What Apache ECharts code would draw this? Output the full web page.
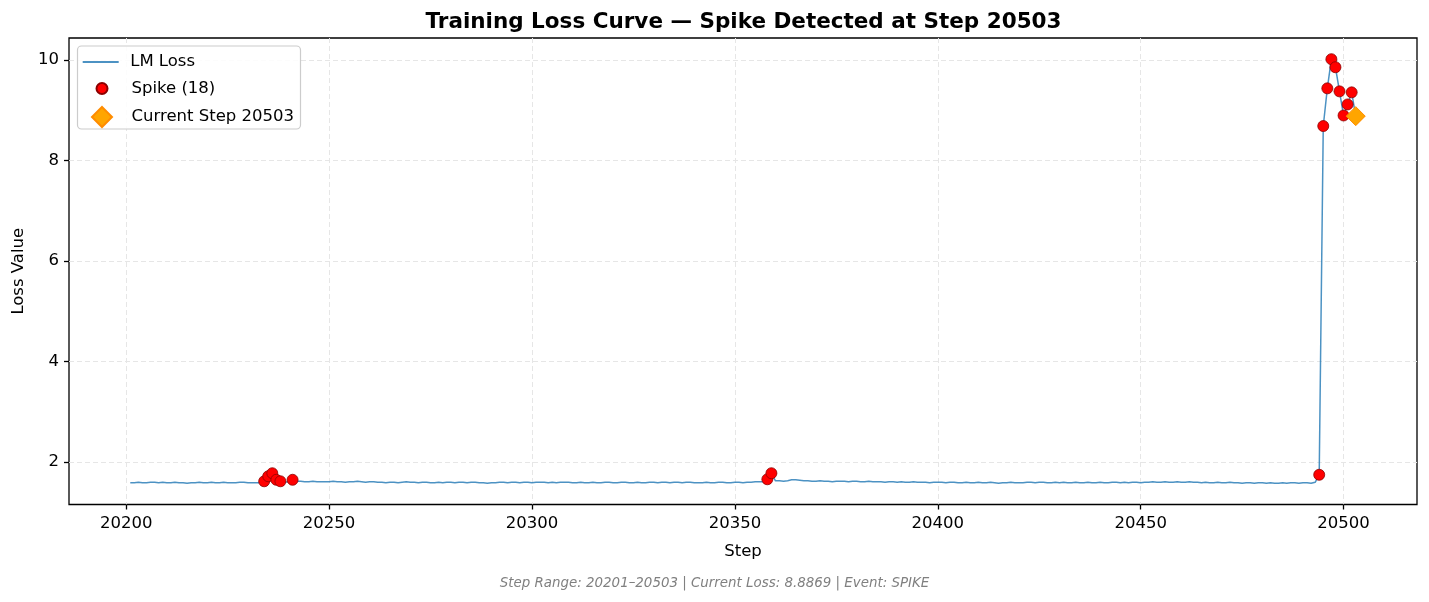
<!DOCTYPE html>
<html><head><meta charset="utf-8">
<script src="https://cdn.jsdelivr.net/npm/echarts@6/dist/echarts.min.js"></script>
<style>html,body{margin:0;padding:0;background:#fff}#c{width:1429px;height:602px}</style>
</head><body><div id="c"></div>
<script>
const startStep = 20201;
const lossValues = [
  1.59,1.59,1.60,1.59,1.59,1.60,1.60,1.59,1.60,1.59,
  1.59,1.60,1.59,1.59,1.58,1.59,1.59,1.60,1.59,1.59,
  1.60,1.59,1.59,1.60,1.59,1.59,1.59,1.60,1.60,1.59,
  1.59,1.59,1.59,
  1.62,1.72,1.78,1.65,1.62,
  1.60,1.61,
  1.65,
  1.62,1.62,1.61,1.61,1.62,1.61,1.61,1.61,1.61,
  1.62,1.61,1.61,1.60,1.61,1.61,1.62,1.61,1.60,1.61,
  1.61,1.60,1.60,1.59,1.60,1.60,1.59,1.60,1.61,1.60,
  1.60,1.59,1.60,1.60,1.59,1.59,1.60,1.59,1.60,1.60,
  1.59,1.60,1.60,1.59,1.60,1.60,1.59,1.59,1.58,1.59,
  1.59,1.60,1.60,1.59,1.60,1.60,1.59,1.60,1.60,1.59,
  1.60,1.60,1.60,1.59,1.60,1.59,1.60,1.60,1.60,1.59,
  1.59,1.60,1.59,1.59,1.60,1.59,1.59,1.60,1.60,1.59,
  1.59,1.60,1.60,1.59,1.59,1.60,1.59,1.59,1.60,1.60,
  1.59,1.60,1.60,1.59,1.60,1.60,1.59,1.60,1.60,1.59,
  1.59,1.59,1.60,1.59,1.59,1.60,1.60,1.59,1.59,1.60,
  1.60,1.59,1.60,1.60,1.61,1.61,1.61,
  1.66,1.78,
  1.63,1.63,1.62,1.63,1.65,1.65,1.64,1.63,1.63,1.62,1.62,
  1.63,1.62,1.62,1.61,1.62,1.62,1.62,1.61,1.62,1.62,
  1.61,1.61,1.62,1.61,1.61,1.61,1.60,1.61,1.61,1.60,
  1.61,1.60,1.60,1.61,1.60,1.60,1.60,1.59,1.60,1.60,
  1.60,1.59,1.60,1.60,1.59,1.59,1.60,1.59,1.59,1.60,
  1.59,1.59,1.60,1.59,1.58,1.59,1.59,1.60,1.59,1.59,
  1.59,1.60,1.60,1.59,1.60,1.60,1.59,1.59,1.60,1.59,
  1.60,1.59,1.59,1.60,1.59,1.59,1.60,1.59,1.59,1.60,
  1.59,1.59,1.60,1.60,1.59,1.60,1.59,1.60,1.60,1.59,
  1.60,1.60,1.61,1.60,1.60,1.61,1.60,1.60,1.61,1.60,
  1.60,1.61,1.60,1.60,1.59,1.60,1.59,1.59,1.60,1.59,
  1.59,1.60,1.59,1.59,1.58,1.59,1.59,1.58,1.59,1.59,
  1.58,1.59,1.58,1.58,1.59,1.58,1.59,1.59,1.58,1.59,
  1.59,1.58,1.60,
  1.75,
  8.69,9.44,10.02,9.86,9.38,8.90,9.12,9.36,8.8869
];
const spikeSteps = [20234,20235,20236,20237,20238,20241,20358,20359,20494,20495,20496,20497,20498,20499,20500,20501,20502];
const currentStep = 20503;
const currentLoss = 8.8869;
const xTickValues = [20200,20250,20300,20350,20400,20450,20500];
const yTickValues = [2,4,6,8,10];
const titleText = 'Training Loss Curve \u2014 Spike Detected at Step 20503';
const footerText = 'Step Range: 20201\u201320503 | Current Loss: 8.8869 | Event: SPIKE';
const seriesNames = ['LM Loss', 'Spike (18)', 'Current Step 20503'];

const lineData = lossValues.map((v, i) => [startStep + i, v]);
const spikeData = spikeSteps.map(s => [s, lossValues[s - startStep]]);
const currentData = [[currentStep, currentLoss]];

const FONT = 'DejaVu Sans';
const chart = echarts.init(document.getElementById('c'), null, {renderer: 'canvas'});
const legendBase = {
  orient: 'vertical', padding: 0, itemWidth: 49, itemGap: 0,
  selectedMode: false, z: 6, symbolKeepAspect: true,
  textStyle: {fontFamily: FONT, fontSize: 16.5, color: '#000', lineHeight: 20}
};
chart.setOption({
  animation: false,
  backgroundColor: '#fff',
  title: {
    text: titleText, left: 743.5, top: 11, textAlign: 'center', padding: 0,
    textStyle: {fontFamily: FONT, fontSize: 21.5, fontWeight: 'bold', color: '#000'}
  },
  grid: {left: 69, right: 12, top: 38, bottom: 97.5, show: true, borderColor: '#000', borderWidth: 1.3, backgroundColor: 'transparent'},
  xAxis: {
    type: 'value', min: 20185.9, max: 20518.1,
    name: 'Step', nameLocation: 'middle', nameGap: 39,
    nameTextStyle: {fontFamily: FONT, fontSize: 16.5, color: '#000'},
    axisLine: {show: false},
    axisTick: {show: true, length: 5, customValues: xTickValues, lineStyle: {color: '#000', width: 1.3}},
    axisLabel: {customValues: xTickValues, margin: 11, fontFamily: FONT, fontSize: 16.5, color: '#000', formatter: v => String(v)},
    splitLine: {show: true, lineStyle: {color: '#e6e6e6', type: [5, 3], width: 1}}
  },
  yAxis: {
    type: 'value', min: 1.158, max: 10.442,
    name: 'Loss Value', nameLocation: 'middle', nameGap: 40, nameRotate: 90,
    nameTextStyle: {fontFamily: FONT, fontSize: 16.5, color: '#000'},
    axisLine: {show: false},
    axisTick: {show: true, length: 5, customValues: yTickValues, lineStyle: {color: '#000', width: 1.3}},
    axisLabel: {customValues: yTickValues, margin: 10, fontFamily: FONT, fontSize: 16.5, color: '#000', formatter: v => String(v)},
    splitLine: {show: true, lineStyle: {color: '#e6e6e6', type: [5, 3], width: 1}}
  },
  legend: [
    Object.assign({}, legendBase, {left: 82.7, top: 52, itemHeight: 2, data: [{name: seriesNames[0], icon: 'path://M0 0H36V2H0Z'}]}),
    Object.assign({}, legendBase, {left: 95.5, top: 78.5, itemHeight: 11, data: [{name: seriesNames[1], icon: 'circle'}]}),
    Object.assign({}, legendBase, {left: 91, top: 106, itemHeight: 20, data: [{name: seriesNames[2], icon: 'path://M10 0L20 10L10 20L0 10Z'}]})
  ],
  graphic: [
    {type: 'rect', z: 5, shape: {x: 77.5, y: 46, width: 223, height: 83, r: 4},
     style: {fill: 'rgba(255,255,255,0.85)', stroke: '#cccccc', lineWidth: 1.2}},
    {type: 'text', z: 5, left: 'center', top: 577,
     style: {text: footerText, fontFamily: FONT, fontSize: 13.4, fontStyle: 'italic', fill: '#808080'}}
  ],
  series: [
    {name: seriesNames[0], type: 'line', data: lineData, symbol: 'none', z: 2,
     lineStyle: {color: 'rgba(31,119,180,0.8)', width: 1.5},
     itemStyle: {color: 'rgba(31,119,180,0.8)'}},
    {name: seriesNames[1], type: 'scatter', data: spikeData, symbol: 'circle', symbolSize: 11, z: 3,
     itemStyle: {color: '#ff0000', borderColor: '#8b0000', borderWidth: 0.8, opacity: 1}},
    {name: seriesNames[2], type: 'scatter', data: currentData, symbol: 'diamond', symbolSize: 19, z: 4,
     itemStyle: {color: '#ffa500', borderColor: '#ff8c00', borderWidth: 1, opacity: 1}}
  ]
});
</script></body></html>
